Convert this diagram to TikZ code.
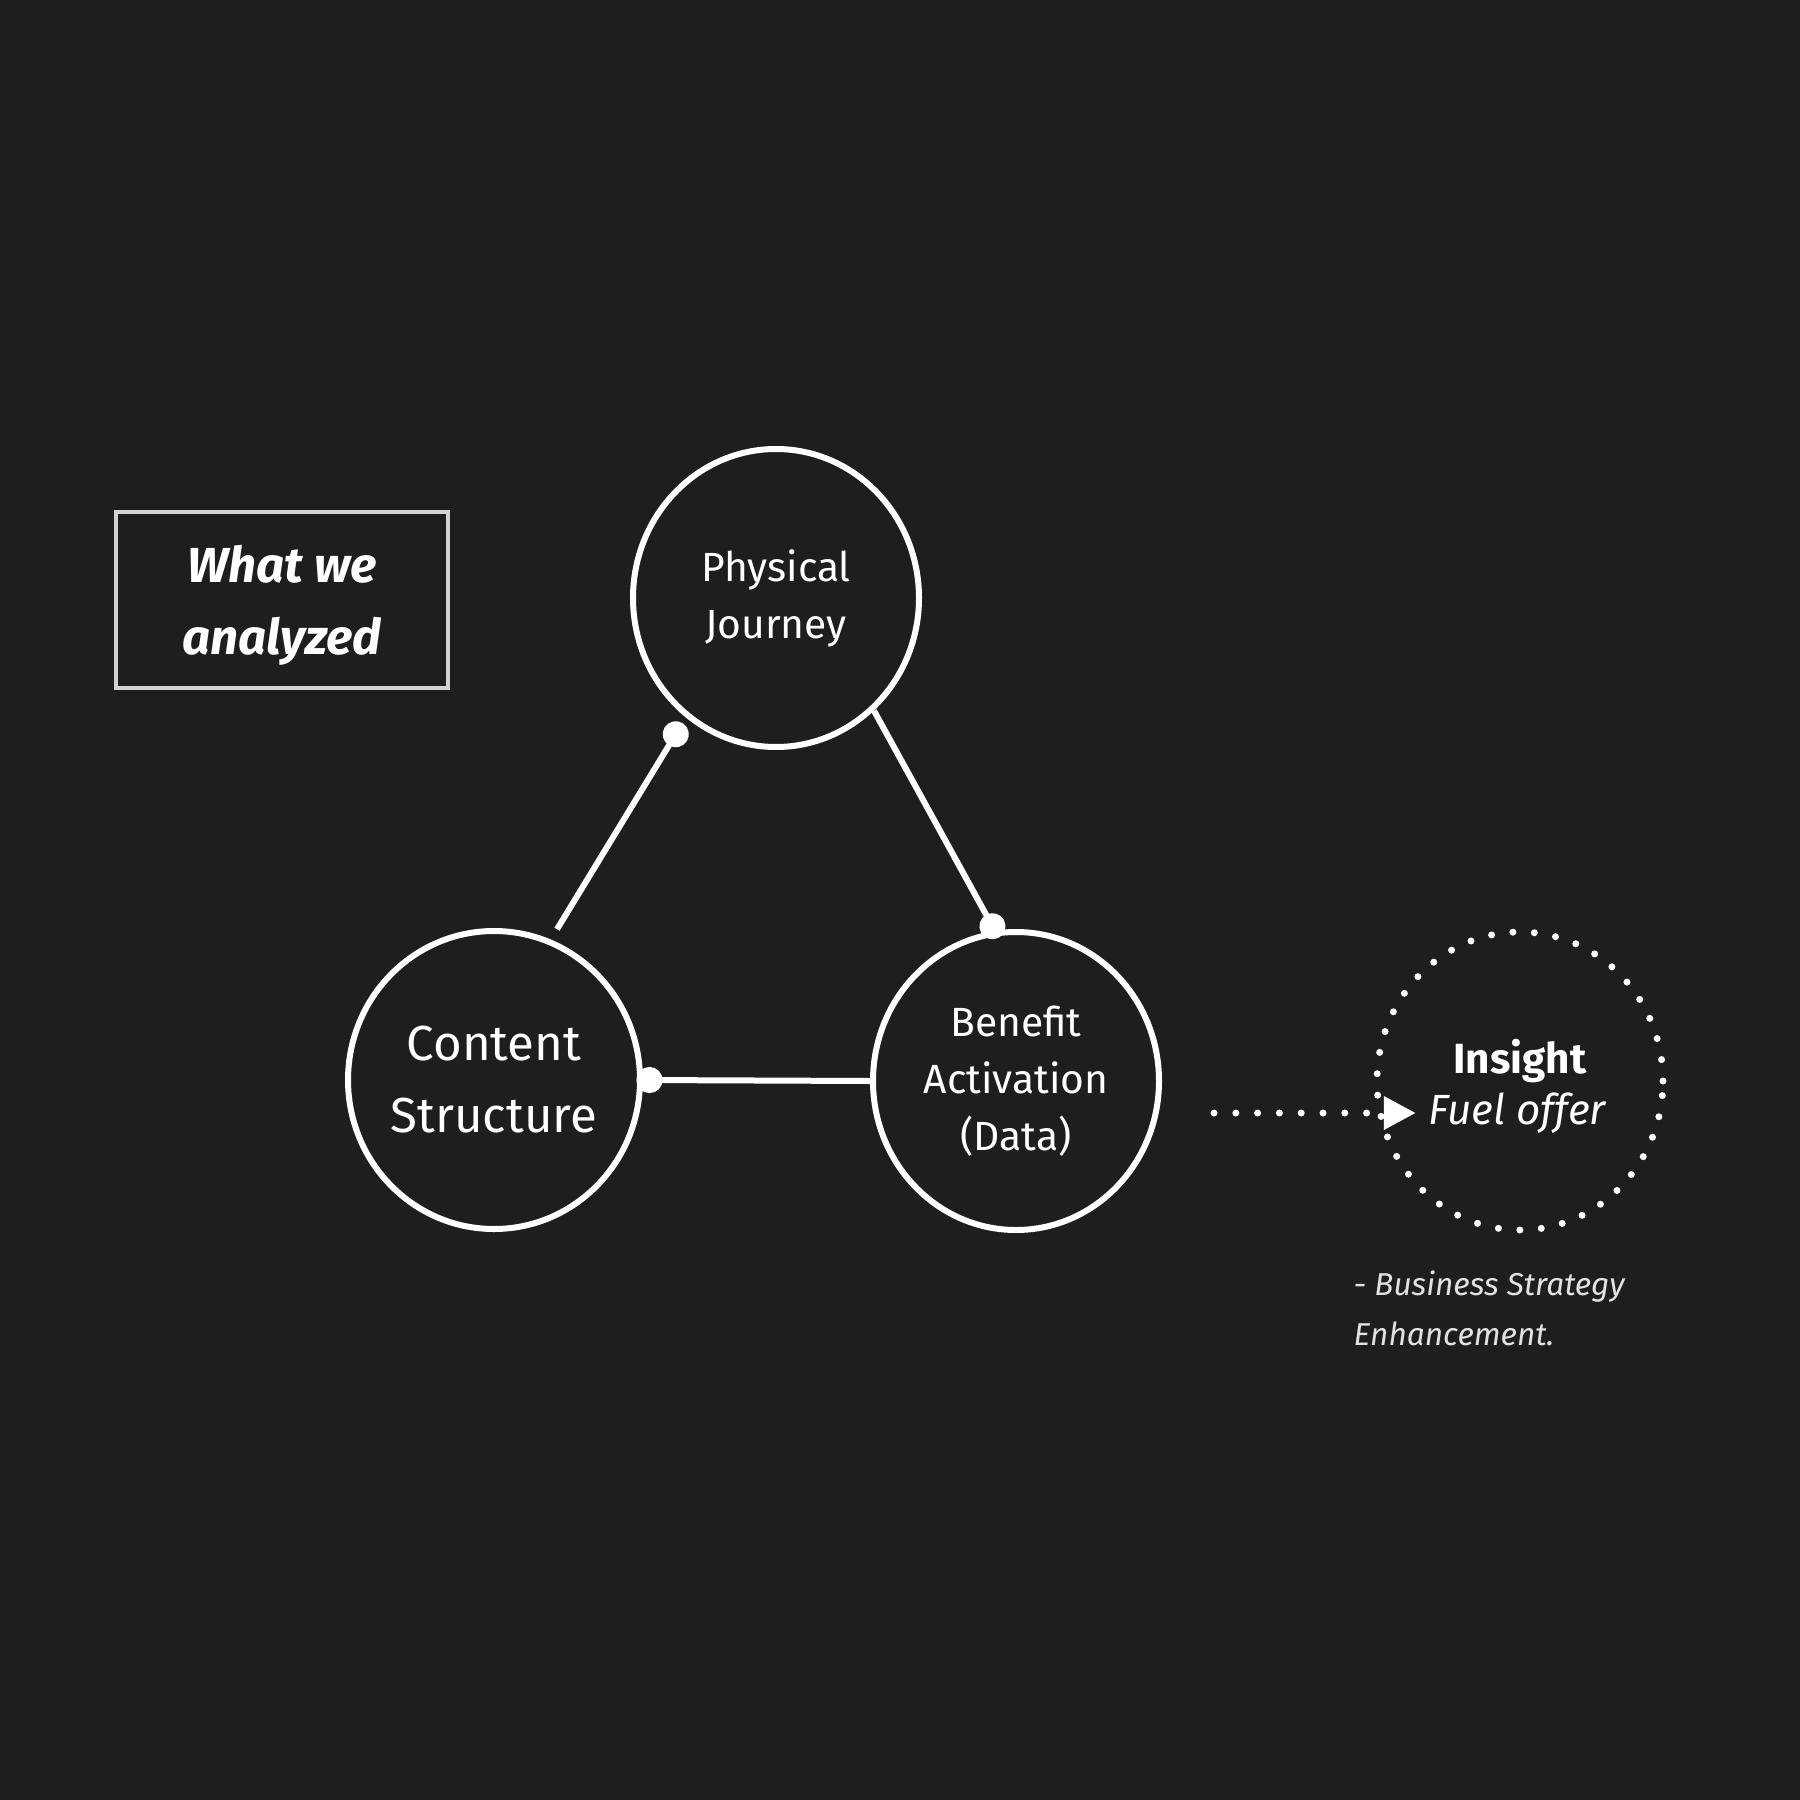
\documentclass[tikz,border=0pt]{standalone}
\usepackage{fontspec}
\setmainfont{Fira Sans}
\usetikzlibrary{arrows.meta,shapes.geometric}

\definecolor{bgdark}{HTML}{1E1E1E}
\definecolor{framegray}{HTML}{D2D2D2}
\definecolor{notegray}{HTML}{E2E2E2}

\begin{document}
\begin{tikzpicture}[x=0.1mm,y=-0.1mm]

      \fill[bgdark] (0,0) rectangle (1800,1800);
      \useasboundingbox (0,0) rectangle (1800,1800);

      \node[draw=framegray,line width=0.4mm,minimum width=33.2mm,minimum height=17.6mm,
            text=white,align=center,text depth=0pt,
            font={\fontsize{14}{20.5}\selectfont\bfseries\itshape}] (analyzed) at (282,600) {What we\\analyzed};

      \begin{scope}[every node/.style={ellipse,draw=white,line width=0.6mm,minimum width=28.6mm,
                    minimum height=29.8mm,inner sep=0pt,text=white,align=center}]
        \node[font={\fontsize{11.6}{16.2}\selectfont}] (physical) at (776,598) {Physical\\Journey};
        \node[font={\fontsize{14}{20.5}\selectfont}] (content) at (494,1080) {Content\\Structure};
        \node[font={\fontsize{11.6}{16.2}\selectfont}] (benefit) at (1016,1081) {Benefit\\Activation\\(Data)};
      \end{scope}

      \node[ellipse,draw=white,line width=0.7mm,line cap=round,dash pattern=on 0pt off 2.15mm,
            minimum width=28.6mm,minimum height=29.8mm] (insight) at (1520,1081) {};
      \node[text=white,font={\fontsize{12}{14}\selectfont\bfseries}] (insightlabel) at (1520,1061) {Insight};
      \node[text=white,font={\fontsize{12}{14}\selectfont\itshape}] (fuel) at (1517,1113) {Fuel offer};
      \node[anchor=west,inner sep=0pt,align=left,text=notegray,
            font={\fontsize{9}{14.2}\selectfont\itshape}] (note) at (1353,1308) {- Business Strategy\\Enhancement.};

      \begin{scope}[every edge/.style={draw=white,line width=0.6mm,-{Circle[length=2.6mm]}}]
        \path (content.68) edge[shorten <=1.2mm,shorten >=0.65mm] (physical.233);
        \path (physical.311) edge[shorten >=-0.8mm] (benefit.98);
        \path (benefit.west) edge[shorten >=-0.65mm] (content.east);
      \end{scope}

      \draw[white,line width=0.7mm,line cap=round,dash pattern=on 0pt off 2.18mm,shorten <=5.2mm,
            -{Triangle[length=3.2mm,width=3.2mm]}] (benefit.east |- fuel.west) -- (fuel.west);

    \end{tikzpicture}
\end{document}
